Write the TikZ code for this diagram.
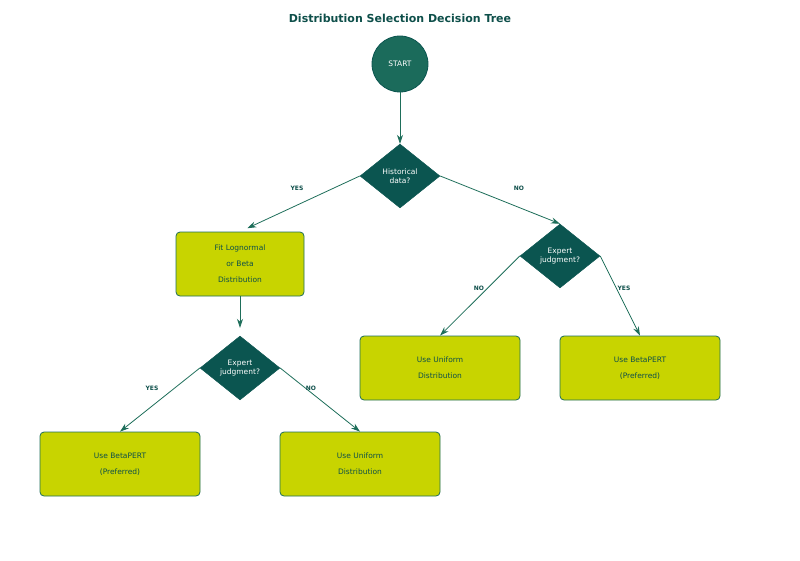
\documentclass[tikz,border=0pt]{standalone}
\usepackage{fontspec}
\setmainfont{DejaVu Sans}
\usetikzlibrary{arrows.meta,positioning,shapes.geometric}
\definecolor{deepteal}{HTML}{0B5550}
\definecolor{startteal}{HTML}{1B6B5B}
\definecolor{lime}{HTML}{C8D400}
\definecolor{edgegreen}{HTML}{1E6E5A}
\definecolor{titleteal}{HTML}{0E4F4A}

\tikzset{
  startnode/.style={circle, fill=startteal, draw=deepteal, line width=0.8pt,
    minimum size=56pt, inner sep=0pt, text=white, font=\fontsize{7.5}{9}\selectfont},
  decision/.style={diamond, fill=deepteal, draw=deepteal, minimum width=80pt,
    minimum height=64pt, inner sep=0pt, text=white, align=center,
    font=\fontsize{7.5}{9}\selectfont},
  outcome/.style={rectangle, rounded corners=4pt, fill=lime, draw=edgegreen,
    line width=0.8pt, minimum width=160pt, minimum height=64pt, inner sep=0pt,
    text=titleteal, align=center, font=\fontsize{7.5}{16}\selectfont},
  flow/.style={-{Stealth[length=9pt,width=6pt]}, draw=edgegreen, line width=0.8pt},
  branch/.style={font=\bfseries\fontsize{6}{7}\selectfont, text=titleteal}
}

\begin{document}
\begin{tikzpicture}[x=1pt,y=-1pt]
  \useasboundingbox (0,0) rectangle (800,560);

  \node[font=\bfseries\fontsize{11}{13}\selectfont, text=titleteal] (title) at (400,18) {Distribution Selection Decision Tree};

  % top of the tree
  \node[startnode] (start) at (400,64) {START};
  \node[decision] (hist) at (400,176) {Historical\\data?};

  % left branch
  \node[outcome, minimum width=128pt] (fit) at (240,264) {Fit Lognormal\\or Beta\\Distribution};
  \node[decision] (expL) at (240,368) {Expert\\judgment?};
  \node[outcome] (pertL) at (120,464) {Use BetaPERT\\(Preferred)};
  \node[outcome] (unifL) at (360,464) {Use Uniform\\Distribution};

  % right branch
  \node[decision] (expR) at (560,256) {Expert\\judgment?};
  \node[outcome] (unifR) at (440,368) {Use Uniform\\Distribution};
  \node[outcome] (pertR) at (640,368) {Use BetaPERT\\(Preferred)};

  \draw[flow] (start) -- (hist);
  \draw[flow, shorten >=8pt] (hist.west) -- (fit.north);
  \draw[flow] (hist.east) -- (expR.north);
  \draw[flow, shorten >=8pt] (fit.south) -- (expL.north);
  \draw[flow] (expL.west) -- (pertL.north);
  \draw[flow] (expL.east) -- (unifL.north);
  \draw[flow] (expR.west) -- (unifR.north);
  \draw[flow] (expR.east) -- (pertR.north);

  \node[branch] (yes1) at (297,188) {YES};
  \node[branch] (no1) at (519,188) {NO};
  \node[branch] (yes2) at (152,388) {YES};
  \node[branch] (no2) at (311,388) {NO};
  \node[branch] (no3) at (479,288) {NO};
  \node[branch] (yes3) at (624,288) {YES};
\end{tikzpicture}
\end{document}
